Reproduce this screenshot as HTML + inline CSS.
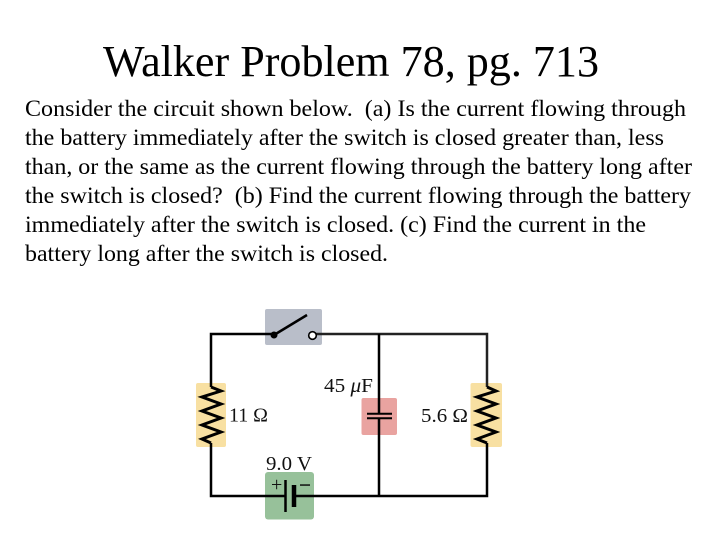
<!DOCTYPE html>
<html>
<head>
<meta charset="utf-8">
<style>
html,body{margin:0;padding:0;background:#fff}
svg{display:block}
text{font-family:"Liberation Serif",serif;fill:#000}
.b{font-size:23px}
.l{font-size:20px;fill:#111}
</style>
</head>
<body>
<svg width="720" height="540" viewBox="0 0 720 540" xmlns="http://www.w3.org/2000/svg">
<rect width="720" height="540" fill="#fff"/>
<text x="103" y="76" font-size="44" textLength="496" lengthAdjust="spacingAndGlyphs">Walker Problem 78, pg. 713</text>
<text class="b" x="25" y="116" textLength="661" lengthAdjust="spacingAndGlyphs" xml:space="preserve">Consider the circuit shown below.  (a) Is the current flowing through</text>
<text class="b" x="25" y="145" textLength="639" lengthAdjust="spacingAndGlyphs">the battery immediately after the switch is closed greater than, less</text>
<text class="b" x="25" y="174" textLength="667" lengthAdjust="spacingAndGlyphs">than, or the same as the current flowing through the battery long after</text>
<text class="b" x="25" y="203" textLength="666" lengthAdjust="spacingAndGlyphs" xml:space="preserve">the switch is closed?  (b) Find the current flowing through the battery</text>
<text class="b" x="25" y="232" textLength="621" lengthAdjust="spacingAndGlyphs">immediately after the switch is closed. (c) Find the current in the</text>
<text class="b" x="25" y="261" textLength="363" lengthAdjust="spacingAndGlyphs">battery long after the switch is closed.</text>

<rect x="265" y="309" width="57" height="36" rx="2" fill="#b9bec9"/>
<rect x="196" y="383" width="30" height="64" rx="2" fill="#f8e0a2"/>
<rect x="470.500" y="383" width="31.500" height="64" rx="2" fill="#f8e0a2"/>
<rect x="361.500" y="398" width="35.500" height="37" rx="2" fill="#e9a3a0"/>
<rect x="265" y="472" width="49" height="47.500" rx="3" fill="#97c19a"/>

<g fill="none" stroke="#000" stroke-width="2.500">
<path d="M274 334H211V387"/>
<path d="M316 334H487V387" stroke="#222"/>
<path d="M211 443V496H285"/>
<path d="M294 496H487V443"/>
<path d="M379 334V414M379 418V496"/>
<path d="M211 387L221 391L202 397L221 404L202 411L221 418L202 425L221 432L202 439L211 443" stroke-width="3"/>
<path d="M487 387L496 391L477 397L496 404L477 411L496 418L477 425L496 432L477 439L487 443" stroke-width="3"/>
<path d="M367 413.700H392M367 418.200H392" stroke-width="2"/>
<path d="M274 335L307 315"/>
<path d="M285.500 480V512" stroke-width="2.500"/>
<path d="M294 485V507" stroke-width="4.500"/>
</g>
<circle cx="274" cy="335" r="3.500" fill="#000"/>
<circle cx="312.500" cy="335.500" r="3.800" fill="#fff" stroke="#000" stroke-width="1.600"/>

<text class="l" x="229" y="421.500" textLength="39" lengthAdjust="spacingAndGlyphs">11 Ω</text>
<text class="l" x="324" y="392" textLength="49" lengthAdjust="spacingAndGlyphs">45 <tspan font-style="italic">μ</tspan>F</text>
<text class="l" x="421" y="422" textLength="47" lengthAdjust="spacingAndGlyphs">5.6 Ω</text>
<text class="l" x="266" y="470" textLength="46" lengthAdjust="spacingAndGlyphs">9.0 V</text>
<text x="271" y="491" font-size="20" style="fill:#111">+</text>
<rect x="300" y="484.300" width="10" height="1.500" fill="#111"/>
</svg>
</body>
</html>
